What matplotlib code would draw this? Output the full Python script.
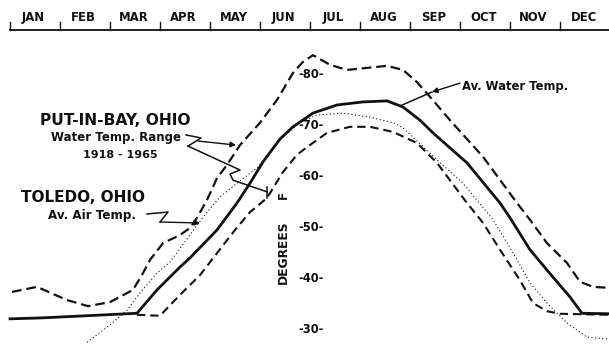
"""
Lake Erie water temperature at Put-in-Bay (1918-1965) against
Toledo air temperature, by month.
"""

import matplotlib
matplotlib.use("Agg")
import matplotlib.pyplot as plt

# x is months after Jan 1, y is degrees F
MONTHS = ["JAN", "FEB", "MAR", "APR", "MAY", "JUN",
          "JUL", "AUG", "SEP", "OCT", "NOV", "DEC"]

# Toledo average air temperature
air_m = [0.04, 0.54, 1.14, 1.56, 2.0, 2.46, 2.66, 2.8, 3.06, 3.4, 3.6, 3.74,
         3.94, 4.14, 4.34, 4.6, 5.0, 5.34, 5.66, 5.86, 6.06, 6.4, 6.74, 7.14,
         7.54, 7.86, 8.14, 8.4, 8.8, 9.46, 10.14, 10.4, 10.74, 11.14, 11.4,
         11.66, 11.98]
air_t = [37.3, 38.3, 35.7, 34.5, 35.3, 37.7, 41.0, 43.6, 46.9, 48.5, 49.9, 51.9,
         55.4, 59.7, 62.3, 66.2, 70.6, 75.1, 80.4, 82.6, 83.9, 82.0, 81.0, 81.4,
         81.8, 81.0, 78.6, 75.7, 71.1, 63.9, 54.8, 51.5, 46.9, 43.0, 39.3,
         38.3, 38.1]

# Put-in-Bay average water temperature
water_m = [0.0, 0.66, 2.34, 2.54, 2.94, 3.4, 3.6, 4.14, 4.54, 4.8, 5.06, 5.4,
           5.66, 6.06, 6.54, 7.06, 7.54, 7.86, 8.2, 8.46, 9.14, 9.8, 10.0,
           10.4, 10.86, 11.2, 11.44, 11.98]
water_t = [32.0, 32.2, 33.0, 33.1, 37.7, 42.2, 44.0, 49.5, 54.8, 58.7, 62.9, 67.4,
           69.8, 72.5, 74.1, 74.7, 74.9, 73.7, 71.1, 68.6, 62.7, 54.8, 51.9,
           45.6, 40.2, 36.3, 33.1, 33.0]

# lower edge of the water temperature range
low_m = [2.54, 3.0, 3.2, 3.5, 3.8, 4.16, 4.5, 4.8, 5.14, 5.46, 5.74, 5.94,
         6.34, 6.8, 7.2, 7.66, 8.14, 8.54, 9.14, 9.46, 9.8, 10.2, 10.46,
         10.74, 11.0, 11.98]
low_t = [32.8, 32.6, 34.7, 37.7, 40.6, 45.2, 49.5, 53.0, 55.8, 60.9, 64.3, 65.8,
         68.6, 69.8, 69.8, 68.8, 66.6, 62.7, 54.8, 50.9, 45.6, 39.6, 35.1,
         33.5, 33.0, 32.8]

# dotted curve
dot_m = [1.54, 2.0, 2.34, 2.6, 2.94, 3.2, 3.86, 4.2, 4.54, 4.94, 5.4, 5.8,
         6.14, 6.66, 7.2, 7.66, 7.86, 8.54, 9.06, 9.66, 10.06, 10.4, 10.74,
         11.14, 11.54, 11.98]
dot_t = [27.4, 30.8, 33.7, 37.1, 41.0, 43.2, 52.0, 56.0, 58.7, 61.7, 67.2, 70.7,
         72.1, 72.5, 71.7, 70.6, 69.6, 63.3, 58.7, 51.5, 45.0, 39.1, 35.1,
         31.2, 28.4, 28.0]

DEG_TICKS = [30, 40, 50, 60, 70, 80]

plt.rcParams["lines.scale_dashes"] = False
plt.rcParams["font.family"] = "DejaVu Sans"
INK = "#111111"

fig = plt.figure(figsize=(6.09, 3.44), dpi=100)
ax = fig.add_axes([0, 0, 1, 1])
ax.set_xlim(-0.2, 11.98)
ax.set_ylim(27.05, 94.76)
ax.axis("off")

ax.plot(air_m, air_t, color=INK, lw=1.6, dashes=(7, 3.5), solid_capstyle="butt")
ax.plot(water_m, water_t, color=INK, lw=2.0)
ax.plot(low_m, low_t, color=INK, lw=1.5, dashes=(6, 3.5))
ax.plot(dot_m, dot_t, color=INK, lw=0.8, dashes=(0.8, 1.8))

# month strip across the top
strip_y, tick_top, label_y = 88.86, 90.4, 91.4
ax.plot([0, 11.98], [strip_y, strip_y], color=INK, lw=1.3)
for i, name in enumerate(MONTHS):
    ax.plot([i, i], [strip_y, tick_top], color=INK, lw=1.0)
    ax.text(i + 0.47, label_y, name, ha="center", va="center",
            fontsize=8.4, fontweight="bold", color=INK)

# degree labels down the middle of the year
for d in DEG_TICKS:
    ax.text(6.02, d, f"-{d}-", ha="center", va="center",
            fontsize=8.3, fontweight="bold", color=INK)
ax.text(5.46, 45.2, "DEGREES", rotation=90, ha="center", va="center",
        fontsize=8.8, fontweight="bold", color=INK)
ax.text(5.46, 56.4, "F", rotation=90, ha="center", va="center",
        fontsize=8.6, fontweight="bold", color=INK)

# captions
ax.text(2.1, 71.1, "PUT-IN-BAY, OHIO", ha="center", va="center",
        fontsize=11.2, fontweight="bold", color=INK)
ax.text(2.12, 67.6, "Water Temp. Range", ha="center", va="center",
        fontsize=8.5, fontweight="bold", color=INK)
ax.text(2.2, 64.25, "1918 - 1965", ha="center", va="center",
        fontsize=8.0, fontweight="bold", color=INK)
ax.text(1.46, 55.8, "TOLEDO, OHIO", ha="center", va="center",
        fontsize=11.0, fontweight="bold", color=INK)
ax.text(1.64, 52.4, "Av. Air Temp.", ha="center", va="center",
        fontsize=8.6, fontweight="bold", color=INK)
ax.text(9.04, 77.8, "Av. Water Temp.", ha="left", va="center",
        fontsize=8.4, fontweight="bold", color=INK)

arrow = dict(arrowstyle="-|>", color=INK, lw=1.0, mutation_scale=8,
             shrinkA=0, shrinkB=0)

# leader for the water range: Z, arrow to the upper edge, bracket below
ax.plot([3.52, 3.82, 3.56], [68.2, 67.6, 66.0], color=INK, lw=1.1)
ax.annotate("", xy=(4.52, 66.2), xytext=(3.76, 67.0), arrowprops=arrow)
ax.plot([3.56, 4.6, 4.4, 4.46, 5.14], [66.0, 61.3, 60.5, 59.3, 57.0],
        color=INK, lw=1.1)
ax.plot([5.14, 5.14], [57.95, 55.8], color=INK, lw=1.1)

# leader for air temperature
ax.plot([2.74, 3.16, 3.0], [52.64, 53.03, 51.06], color=INK, lw=1.1)
ax.annotate("", xy=(3.8, 50.87), xytext=(3.0, 51.06), arrowprops=arrow)

# leader for average water temperature
ax.annotate("", xy=(8.44, 76.65), xytext=(9.0, 78.4), arrowprops=arrow)
ax.plot([8.44, 7.8], [76.65, 73.9], color=INK, lw=1.1)

fig.savefig("out.png", dpi=100, facecolor="white")
